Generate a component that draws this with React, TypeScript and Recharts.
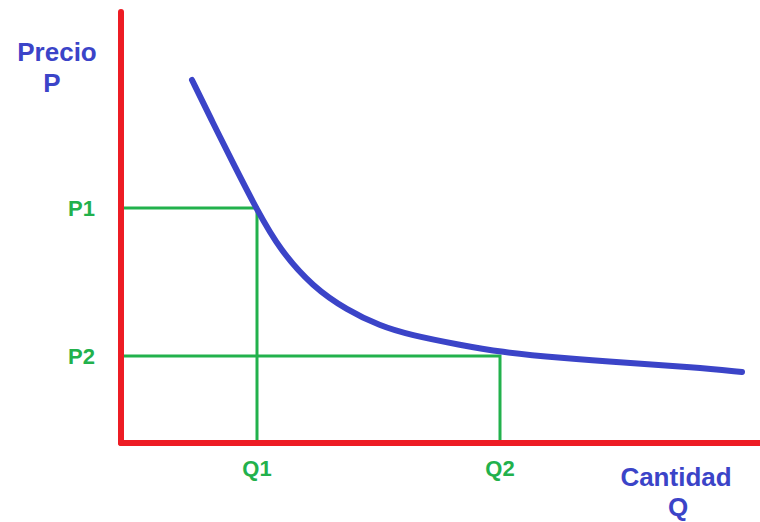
import { ComposedChart, Customized, Line, XAxis, YAxis } from 'recharts';

// Quantities / prices (arbitrary units along each axis)
const curveQ = [71, 92, 112, 136, 159, 192, 226, 259, 289, 339, 379, 439, 506, 572, 621];
const curveP = [363, 320, 280, 233, 193, 156, 133, 117, 108, 98, 91, 85, 80, 76, 71];

const qTicks = [136, 379];
const qLabels = ['Q1', 'Q2'];
const pTicks = [235, 87];
const pLabels = ['P1', 'P2'];

const demand = curveQ.map((q, i) => ({ q, p: curveP[i] }));

const guide = (q: number, p: number) => [
  { q: 0, p },
  { q, p },
  { q, p: 0 },
];

const RED = '#ed1c24';
const BLUE = '#3b44c8';
const GREEN = '#22b14c';
const FONT = '"Liberation Sans", Arial, sans-serif';

function AxisTitles() {
  const style = { fill: BLUE, fontFamily: FONT, fontWeight: 700, fontSize: 26 };
  return (
    <g>
      <text x={57} y={61} textAnchor="middle" {...style}>Precio</text>
      <text x={52} y={92} textAnchor="middle" {...style}>P</text>
      <text x={676} y={486} textAnchor="middle" {...style}>Cantidad</text>
      <text x={678} y={516} textAnchor="middle" {...style}>Q</text>
    </g>
  );
}

export default function App() {
  const tickStyle = { fill: GREEN, fontFamily: FONT, fontWeight: 700, fontSize: 22 };
  return (
    <div style={{ position: 'absolute', left: 0, top: 0, background: '#fff' }}>
      <ComposedChart width={760} height={522} margin={{ top: 12, right: 0, bottom: 0, left: 0 }}>
        <XAxis
          type="number"
          dataKey="q"
          domain={[0, 639]}
          ticks={qTicks}
          tickFormatter={(v: number) => qLabels[qTicks.indexOf(v)]}
          height={79}
          tickSize={0}
          tickMargin={17}
          tick={tickStyle}
          axisLine={{ stroke: RED, strokeWidth: 6, strokeLinecap: 'round' }}
        />
        <YAxis
          type="number"
          dataKey="p"
          domain={[0, 431]}
          ticks={pTicks}
          tickFormatter={(v: number) => pLabels[pTicks.indexOf(v)]}
          width={121}
          tickSize={0}
          tickMargin={26}
          tick={tickStyle}
          axisLine={{ stroke: RED, strokeWidth: 6, strokeLinecap: 'round' }}
        />
        <Line
          data={guide(qTicks[0], pTicks[0])}
          dataKey="p"
          type="linear"
          stroke={GREEN}
          strokeWidth={3}
          dot={false}
          isAnimationActive={false}
        />
        <Line
          data={guide(qTicks[1], pTicks[1])}
          dataKey="p"
          type="linear"
          stroke={GREEN}
          strokeWidth={3}
          dot={false}
          isAnimationActive={false}
        />
        <Line
          data={demand}
          dataKey="p"
          type="basis"
          stroke={BLUE}
          strokeWidth={6}
          strokeLinecap="round"
          dot={false}
          isAnimationActive={false}
        />
        <Customized component={AxisTitles} />
      </ComposedChart>
    </div>
  );
}
